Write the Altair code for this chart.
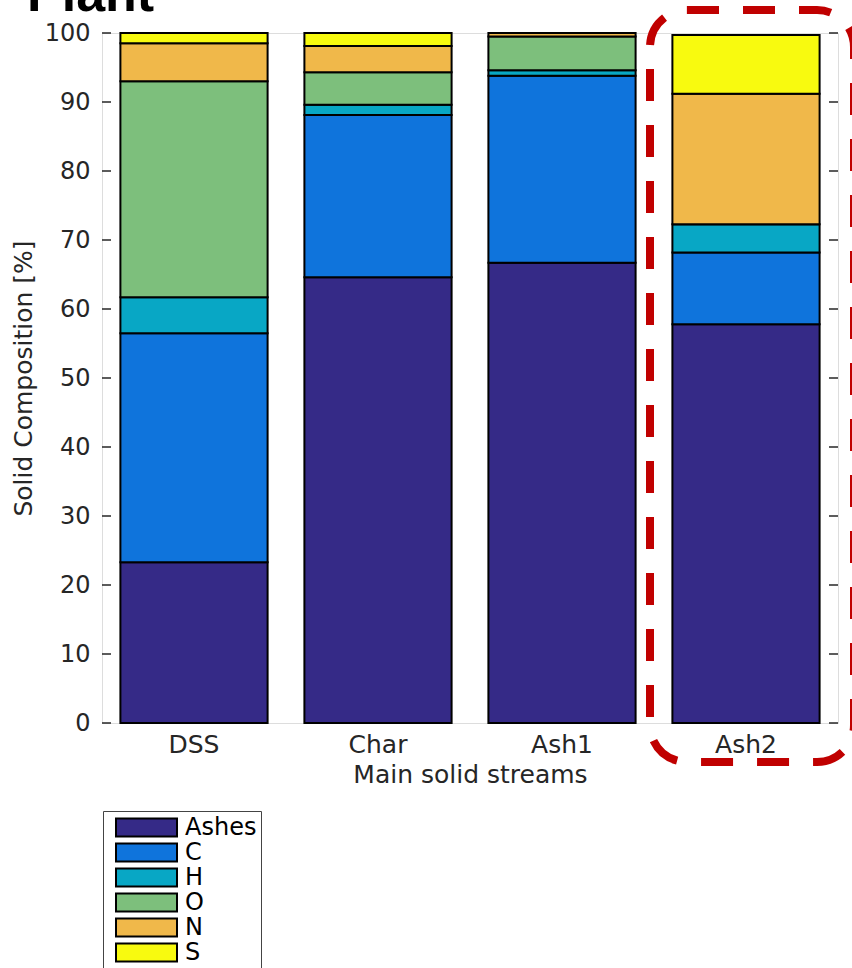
import altair as alt
import pandas as pd

categories = ["DSS", "Char", "Ash1", "Ash2"]
components = ["Ashes", "C", "H", "O", "N", "S"]
colors = ["#352A87", "#0F74DC", "#08A7C5", "#7DBF7C", "#F0B84A", "#F8FA0F"]

ashes = [23.3, 64.6, 66.7, 57.8]
carbon = [33.2, 23.5, 27.1, 10.4]
hydrogen = [5.2, 1.5, 0.8, 4.1]
oxygen = [31.3, 4.7, 4.9, 0.0]
nitrogen = [5.5, 3.8, 0.5, 18.9]
sulfur = [1.5, 1.9, 0.0, 8.5]

y_ticks = [0, 10, 20, 30, 40, 50, 60, 70, 80, 90, 100]
title_text = "Plant"
y_title = "Solid Composition [%]"
x_title = "Main solid streams"

series = [ashes, carbon, hydrogen, oxygen, nitrogen, sulfur]
rows = []
for ci, (comp, vals) in enumerate(zip(components, series)):
    for cat, v in zip(categories, vals):
        rows.append({"cat": cat, "comp": comp, "value": v, "idx": ci})
df = pd.DataFrame(rows)

FONT = "DejaVu Sans"
AXC = "#262626"

bars = alt.Chart(df).mark_bar(stroke="black", strokeWidth=2).encode(
    x=alt.X(
        "cat:N",
        sort=categories,
        scale=alt.Scale(paddingInner=0.2, paddingOuter=0.1),
        axis=alt.Axis(
            title=x_title, labelAngle=0, ticks=False, domain=False,
            labelFont=FONT, labelFontSize=25, labelColor=AXC, labelPadding=9,
            titleFont=FONT, titleFontSize=25, titleFontWeight="normal",
            titleColor=AXC, titlePadding=5,
        ),
    ),
    y=alt.Y(
        "value:Q",
        stack="zero",
        title=y_title,
        scale=alt.Scale(domain=[0, 100], nice=False),
        axis=alt.Axis(
            values=y_ticks, ticks=False, domain=False, grid=False,
            labelFont=FONT, labelFontSize=24, labelColor=AXC, labelPadding=12,
            titleFont=FONT, titleFontSize=25, titleFontWeight="normal",
            titleColor=AXC, titlePadding=8,
        ),
    ),
    color=alt.Color(
        "comp:N",
        scale=alt.Scale(domain=components, range=colors),
        legend=alt.Legend(
            title=None, orient="none", legendX=1, legendY=778,
            symbolType="M-1,-0.295H1V0.295H-1Z", symbolSize=3721,
            symbolStrokeColor="black", symbolStrokeWidth=2,
            symbolOffset=8, labelOffset=7,
            labelFont=FONT, labelFontSize=24, labelColor="black",
            labelBaseline="middle",
            rowPadding=0, clipHeight=25, padding=4,
            strokeColor="#444444",
        ),
    ),
    order=alt.Order("idx:Q"),
)

tick_df = pd.DataFrame({"tick": y_ticks})
ticks_left = alt.Chart(tick_df).mark_rule(color=AXC, strokeWidth=1.5).encode(
    y=alt.Y("tick:Q", title=y_title),
    x=alt.value(0),
    x2=alt.value(9),
)
ticks_right = alt.Chart(tick_df).mark_rule(color=AXC, strokeWidth=1.5).encode(
    y=alt.Y("tick:Q", title=y_title),
    x=alt.value(727),
    x2=alt.value(736),
)

title = alt.Chart(alt.Data(values=[{"t": title_text}])).mark_text(
    font="Liberation Sans", fontSize=52, fontWeight="bold",
    align="left", baseline="alphabetic", color="black",
).encode(x=alt.value(-75), y=alt.value(-22), text="t:N")

highlight = alt.Chart(alt.Data(values=[{"k": 1}])).mark_rect(
    fill="transparent", stroke="#C00000", strokeWidth=8,
    strokeDash=[32, 24], cornerRadius=37,
).encode(x=alt.value(548), x2=alt.value(752), y=alt.value(-23), y2=alt.value(729))

chart = alt.layer(bars, ticks_left, ticks_right, title, highlight).properties(
    width=736,
    height=690,
    autosize=alt.AutoSizeParams(type="none"),
    padding={"left": 102, "top": 33, "right": 14, "bottom": 245},
).configure_view(stroke="#262626", strokeWidth=1.5).configure(background="white")

chart.save("out.html", embed_options={"renderer": "svg", "actions": False})
